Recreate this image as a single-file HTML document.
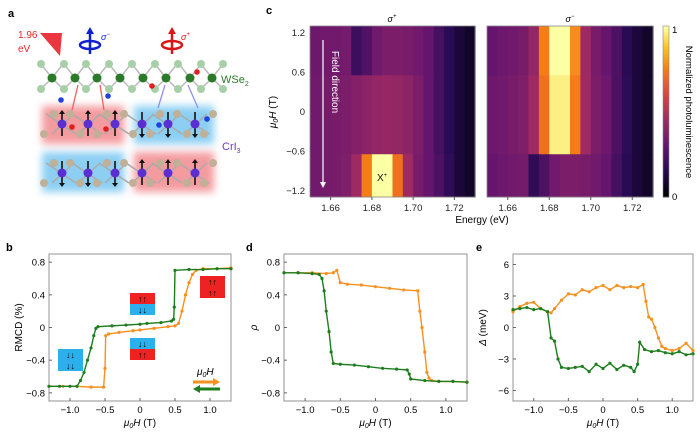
<!DOCTYPE html>
<html><head><meta charset="utf-8"><style>
body{margin:0;background:#fff;}
svg{font-family:"Liberation Sans",sans-serif;}
</style></head><body>
<svg id="fig" width="700" height="441" viewBox="0 0 700 441" xmlns="http://www.w3.org/2000/svg">
<defs>
<filter id="blur" x="-20%" y="-40%" width="140%" height="180%"><feGaussianBlur stdDeviation="4"/></filter>
</defs>
<g font-weight="bold" font-size="11">
<text x="8" y="17">a</text>
<text x="6" y="251">b</text>
<text x="266" y="14">c</text>
<text x="246" y="251">d</text>
<text x="476" y="251">e</text>
</g>
<g id="schem">
<rect x="42" y="106" width="82" height="38" fill="#f07a80" opacity="0.75" filter="url(#blur)"/>
<rect x="134" y="106" width="80" height="38" fill="#66bff0" opacity="0.75" filter="url(#blur)"/>
<rect x="42" y="152" width="82" height="40" fill="#66bff0" opacity="0.75" filter="url(#blur)"/>
<rect x="134" y="152" width="80" height="40" fill="#f07a80" opacity="0.75" filter="url(#blur)"/>
<polygon points="40,33 62,33 60,56" fill="#e8202a" opacity="0.9"/>
<text x="18" y="38" fill="#e8202a" font-size="10">1.96</text>
<text x="18" y="52" fill="#e8202a" font-size="10">eV</text>
<g stroke="#1020d0" fill="none" stroke-width="2.5">
<line x1="90" y1="54" x2="90" y2="33"/><ellipse cx="90" cy="45" rx="10" ry="4"/>
<polygon points="86,34 94,34 90,27" fill="#1020d0" stroke="none"/></g>
<text x="101" y="40" fill="#1020d0" font-size="9" font-style="italic">σ<tspan font-size="6" dy="-4">−</tspan></text>
<g stroke="#d81818" fill="none" stroke-width="2.5">
<line x1="172" y1="54" x2="172" y2="33"/><ellipse cx="172" cy="45" rx="10" ry="4"/>
<polygon points="168,34 176,34 172,27" fill="#d81818" stroke="none"/></g>
<text x="181" y="40" fill="#d81818" font-size="9" font-style="italic">σ<tspan font-size="6" dy="-4">+</tspan></text>
<text x="221" y="83" fill="#2e7a2e" font-size="11">WSe<tspan font-size="7" dy="3">2</tspan></text>
<text x="222" y="150" fill="#6a3cc0" font-size="11">CrI<tspan font-size="7" dy="3">3</tspan></text>
<g stroke="#f06060" stroke-width="1.3"><line x1="78" y1="85" x2="72" y2="110"/><line x1="100" y1="85" x2="104" y2="110"/></g>
<g stroke="#9090f0" stroke-width="1.3"><line x1="165" y1="85" x2="158" y2="108"/><line x1="188" y1="85" x2="198" y2="108"/></g>
</g>
<g id="heat"></g>
<g id="plots"></g>
</svg>
<script>
// ---------- heatmap data ----------
const energies=[1.65,1.655,1.66,1.665,1.67,1.675,1.68,1.685,1.69,1.695,1.70,1.705,1.71,1.715,1.72,1.725];
const fieldBands=[1.3,0.55,-0.65,-1.3];
const sigmaPlus=[
[0.32,0.33,0.33,0.34,0.2,0.25,0.33,0.36,0.36,0.35,0.33,0.3,0.22,0.15,0.1,0.07],
[0.33,0.34,0.35,0.36,0.38,0.4,0.42,0.43,0.42,0.4,0.36,0.3,0.22,0.15,0.1,0.07],
[0.33,0.34,0.35,0.37,0.45,0.75,1.0,1.0,0.72,0.45,0.35,0.3,0.24,0.17,0.1,0.07]];
const sigmaMinus=[
[0.3,0.32,0.33,0.35,0.42,0.75,1.0,1.0,0.78,0.45,0.35,0.3,0.24,0.15,0.1,0.07],
[0.32,0.33,0.35,0.37,0.45,0.72,0.97,0.97,0.75,0.45,0.36,0.32,0.24,0.16,0.1,0.07],
[0.3,0.32,0.33,0.34,0.17,0.24,0.33,0.36,0.36,0.35,0.33,0.3,0.22,0.15,0.1,0.07]];
const energyTicks=[1.66,1.68,1.70,1.72];
const fieldTicks=[1.2,0.6,0,-0.6,-1.2];
// ---------- panel b ----------
const bUpX=[-1.3,-1.1,-0.9,-0.7,-0.52,-0.5,-0.49,-0.45,-0.3,-0.1,0,0.2,0.4,0.5,0.55,0.6,0.65,0.7,0.75,0.8,0.9,1.1,1.3];
const bUpY=[-0.72,-0.72,-0.72,-0.73,-0.73,-0.5,-0.1,-0.08,-0.06,-0.04,-0.03,-0.01,0.01,0.02,0.05,0.2,0.4,0.55,0.65,0.7,0.72,0.72,0.73];
const bDnX=[1.3,1.1,0.9,0.7,0.5,0.49,0.48,0.45,0.3,0.1,0,-0.2,-0.4,-0.6,-0.63,-0.66,-0.7,-0.75,-0.8,-0.85,-0.9,-1.0,-1.15,-1.3];
const bDnY=[0.72,0.72,0.71,0.71,0.7,0.25,0.1,0.08,0.06,0.05,0.04,0.03,0.02,0.01,-0.01,-0.1,-0.25,-0.4,-0.55,-0.65,-0.72,-0.72,-0.72,-0.72];
// ---------- panel d ----------
const dUpX=[-1.3,-1.1,-0.9,-0.7,-0.6,-0.55,-0.5,-0.4,-0.2,0,0.2,0.4,0.6,0.63,0.66,0.7,0.73,0.76,0.8,0.9,1.1,1.3];
const dUpY=[0.67,0.67,0.67,0.66,0.67,0.7,0.55,0.53,0.52,0.5,0.48,0.46,0.45,0.2,0,-0.3,-0.55,-0.62,-0.65,-0.66,-0.66,-0.67];
const dDnX=[1.3,1.1,0.9,0.7,0.5,0.48,0.45,0.3,0.1,-0.1,-0.3,-0.5,-0.6,-0.63,-0.66,-0.7,-0.73,-0.76,-0.8,-0.9,-1.1,-1.3];
const dDnY=[-0.67,-0.66,-0.66,-0.65,-0.63,-0.57,-0.52,-0.51,-0.5,-0.48,-0.46,-0.45,-0.44,-0.3,-0.05,0.2,0.45,0.6,0.65,0.66,0.67,0.67];
// ---------- panel e ----------
const eUpX=[-1.3,-1.2,-1.1,-1.0,-0.9,-0.8,-0.75,-0.7,-0.6,-0.5,-0.4,-0.3,-0.2,-0.1,0,0.1,0.2,0.3,0.4,0.5,0.58,0.62,0.66,0.7,0.75,0.8,0.85,0.9,1.0,1.1,1.2,1.3];
const eUpY=[1.5,2.0,2.3,2.4,1.8,1.5,1.4,1.8,2.6,3.2,3.1,3.6,3.4,3.8,4.0,3.6,4.0,3.8,3.9,3.8,4.1,2.5,1.0,0.8,0.0,-1.0,-1.8,-2.0,-2.2,-2.0,-1.5,-2.2];
const eDnX=[1.3,1.2,1.1,1.0,0.9,0.8,0.7,0.6,0.53,0.5,0.45,0.4,0.3,0.2,0.1,0,-0.1,-0.2,-0.3,-0.4,-0.5,-0.6,-0.65,-0.7,-0.75,-0.8,-0.9,-1.0,-1.1,-1.2,-1.3];
const eDnY=[-2.5,-2.6,-2.3,-2.5,-2.4,-2.2,-2.3,-2.1,-1.4,-3.5,-4.2,-3.8,-3.6,-4.0,-3.4,-3.9,-3.5,-4.2,-3.7,-3.8,-3.9,-3.8,-3.0,-1.3,-1.0,1.5,1.8,1.7,1.9,1.8,1.7];
const hTicks=[-1.0,-0.5,0,0.5,1.0];
const hTickLabels=["\u22121.0","\u22120.5","0","0.5","1.0"];
const bTicks=[0.8,0.4,0,-0.4,-0.8];
const bTickLabels=["0.8","0.4","0","\u22120.4","\u22120.8"];
const eTicks=[6,3,0,-3,-6];
const eTickLabels=["6","3","0","\u22123","\u22126"];

const NS="http://www.w3.org/2000/svg";
function mk(tag,attrs,parent,txt){const e=document.createElementNS(NS,tag);for(const k in attrs)e.setAttribute(k,attrs[k]);if(txt!==undefined)e.textContent=txt;parent.appendChild(e);return e;}

const sch=document.getElementById('schem');
(function(){
 const wx=[52,75,97,120,143,166,190,212];
 wx.forEach((x,i)=>{
  mk('line',{x1:x,y1:78,x2:x+11,y2:64,stroke:'#bbb','stroke-width':1.5},sch);
  mk('line',{x1:x,y1:78,x2:x-11,y2:64,stroke:'#bbb','stroke-width':1.5},sch);
  mk('line',{x1:x,y1:78,x2:x+11,y2:89,stroke:'#bbb','stroke-width':1.5},sch);
  mk('line',{x1:x,y1:78,x2:x-11,y2:89,stroke:'#bbb','stroke-width':1.5},sch);
 });
 [41,64,86,109,132,155,178,201,223].forEach(x=>{mk('circle',{cx:x,cy:64,r:4,fill:'#a8d0a8'},sch);mk('circle',{cx:x,cy:89,r:4,fill:'#a8d0a8'},sch);});
 wx.forEach(x=>{const c=mk('circle',{cx:x,cy:78,r:4.5,fill:'#2a7a2a'},sch);});
 const cx=[62,88,115,142,168,195];
 [124,173].forEach((cy,li)=>{
  for(let i=0;i<cx.length;i++){
   const x=cx[i];
   mk('line',{x1:x-16,y1:cy-10,x2:x+14,y2:cy+10,stroke:'#aaa','stroke-width':1.5},sch);
   mk('line',{x1:x-10,y1:cy+10,x2:x+12,y2:cy-10,stroke:'#aaa','stroke-width':1.5},sch);
  }
  [44,54,70,80,97,107,124,133,150,160,177,187,204,213].forEach((x,j)=>mk('circle',{cx:x,cy:cy+(j%2?-10:10)*(j%4<2?1:-1),r:4,fill:'#c0b098'},sch));
  cx.forEach((x,i)=>{
   const dir=(li===0)?(i<3?1:-1):(i<3?-1:1);
   mk('line',{x1:x,y1:cy-12,x2:x,y2:cy+12,stroke:'#111','stroke-width':1.6},sch);
   const ty=dir>0?cy-14:cy+14;
   mk('polygon',{points:`${x-3},${ty+dir*4} ${x+3},${ty+dir*4} ${x},${ty}`,fill:'#111'},sch);
   const a=mk('circle',{cx:x,cy:cy,r:4.5,fill:'#5a2ed0'},sch);
   
  });
 });
 [[72,127,'#e02020'],[106,129,'#e02020'],[159,125,'#2040e0'],[207,119,'#2040e0'],[61,100,'#2040e0'],[108,96,'#2040e0'],[152,86,'#e02020'],[197,72,'#e02020']].forEach(([x,y,c])=>{mk('circle',{cx:x,cy:y,r:2.8,fill:c},sch);});
})();

const stops=[[0,[0,0,4]],[0.15,[40,11,84]],[0.3,[101,21,110]],[0.45,[159,42,99]],[0.6,[212,72,66]],[0.75,[245,125,21]],[0.88,[250,193,39]],[1,[252,255,164]]];
function cmap(v){v=Math.max(0,Math.min(1,v));for(let i=1;i<stops.length;i++){if(v<=stops[i][0]){const [a,ca]=stops[i-1],[b,cb]=stops[i];const t=(v-a)/(b-a);return `rgb(${ca.map((c,k)=>Math.round(c+(cb[k]-c)*t)).join(',')})`;}}return 'rgb(252,255,164)';}

const heat=document.getElementById('heat');
const hy0=26,hy1=197;
function fy(f){return hy0+(1.3-f)/2.6*(hy1-hy0);}
function drawMap(x0,x1,data,name){
 const ex=e=>x0+(e-1.65)/0.08*(x1-x0);
 const g=mk('g',{},heat);
 
 
 for(let r=0;r<data.length;r++){
  for(let c=0;c<energies.length;c++){
   const xa=ex(energies[c]),xb=ex(energies[c]+0.005);
   const ya=fy(fieldBands[r]),yb=fy(fieldBands[r+1]);
   const cell=mk('rect',{x:xa,y:ya,width:xb-xa+0.6,height:yb-ya+0.4,fill:cmap(data[r][c])},g);
   
   
  }
 }
 mk('rect',{x:x0,y:hy0,width:x1-x0,height:hy1-hy0,fill:'none',stroke:'#888','stroke-width':0.8},g);
 energyTicks.forEach(e=>{mk('line',{x1:ex(e),y1:hy1,x2:ex(e),y2:hy1+3,stroke:'#555'},g);
  const t=mk('text',{x:ex(e),y:211,'font-size':9.5,'text-anchor':'middle',fill:'#222'},g,e.toFixed(2));
  });
 return ex;
}
drawMap(310,475,sigmaPlus,'sigma-plus-heatmap');
drawMap(487,653,sigmaMinus,'sigma-minus-heatmap');
fieldTicks.forEach(f=>{const t=mk('text',{x:305,y:fy(f)+3.5,'font-size':9.5,'text-anchor':'end',fill:'#222'},heat,f===0?'0':(f<0?'\u2212':'')+Math.abs(f).toFixed(1));
 });
let t;
t=mk('text',{x:392,y:22,'font-size':9,'font-style':'italic','text-anchor':'middle'},heat);t.innerHTML='σ<tspan font-size="6" dy="-4">+</tspan>';

t=mk('text',{x:570,y:22,'font-size':9,'font-style':'italic','text-anchor':'middle'},heat);t.innerHTML='σ<tspan font-size="6" dy="-4">−</tspan>';

t=mk('text',{x:482,y:223,'font-size':10,'text-anchor':'middle'},heat,'Energy (eV)');

t=mk('text',{x:0,y:0,'font-size':10,'text-anchor':'middle',transform:'translate(276,112) rotate(-90)'},heat);t.innerHTML='<tspan font-style="italic">μ</tspan><tspan font-size="7" dy="2" font-style="italic">0</tspan><tspan dy="-2" font-style="italic">H</tspan> (T)';

t=mk('text',{x:0,y:0,'font-size':10,fill:'#fff',transform:'translate(332,82) rotate(90)','text-anchor':'middle'},heat,'Field direction');

mk('line',{x1:323,y1:40,x2:323,y2:182,stroke:'#fff','stroke-width':1.2},heat);
mk('polygon',{points:'320,182 326,182 323,188',fill:'#fff'},heat);
t=mk('text',{x:377,y:181,'font-size':10,fill:'#111'},heat);t.innerHTML='X<tspan font-size="6" dy="-4">+</tspan>';

const cb=mk('g',{},heat);
for(let i=0;i<60;i++){mk('rect',{x:663,y:hy0+i*(hy1-hy0)/60,width:6,height:(hy1-hy0)/60+0.5,fill:cmap(1-i/59)},cb);}
mk('rect',{x:663,y:hy0,width:6,height:hy1-hy0,fill:'none',stroke:'#888','stroke-width':0.6},cb);
mk('text',{x:672,y:33,'font-size':9.5},cb,'1');mk('text',{x:672,y:200,'font-size':9.5},cb,'0');
t=mk('text',{x:0,y:0,'font-size':9.5,'text-anchor':'middle',transform:'translate(686,112) rotate(90)'},cb,'Normalized photoluminescence');


const plots=document.getElementById('plots');
function panel(name,x0,x1,ymax,ticks,tickLabels,ylabelHtml,series){
 const y0=254,y1=401;
 const sx=v=>x0+(v+1.3)/2.6*(x1-x0);
 const sy=v=>y0+(ymax-v)/(2*ymax)*(y1-y0);
 const g=mk('g',{},plots);
 mk('rect',{x:x0,y:y0,width:x1-x0,height:y1-y0,fill:'none',stroke:'#888','stroke-width':0.9},g);
 hTicks.forEach((v,i)=>{mk('line',{x1:sx(v),y1:y1,x2:sx(v),y2:y1-3,stroke:'#666'},g);
  const l=mk('text',{x:sx(v),y:y1+12,'font-size':9.5,'text-anchor':'middle'},g,hTickLabels[i]);
  });
 ticks.forEach((v,i)=>{mk('line',{x1:x0,y1:sy(v),x2:x0+3,y2:sy(v),stroke:'#666'},g);
  const l=mk('text',{x:x0-4,y:sy(v)+3.5,'font-size':9.5,'text-anchor':'end'},g,tickLabels[i]);
  });
 const xl=mk('text',{x:(x0+x1)/2,y:426,'font-size':10,'text-anchor':'middle'},g);
 xl.innerHTML='<tspan font-style="italic">μ</tspan><tspan font-size="7" dy="2" font-style="italic">0</tspan><tspan dy="-2" font-style="italic">H</tspan> (T)';
 
 const yl=mk('text',{x:0,y:0,'font-size':10,'text-anchor':'middle',transform:`translate(${x0-27},${(y0+y1)/2}) rotate(-90)`},g);
 yl.innerHTML=ylabelHtml;
 series.forEach(([xs,ys,col,sn])=>{
  const p=mk('polyline',{points:xs.map((x,i)=>sx(x)+','+sy(ys[i])).join(' '),fill:'none',stroke:col,'stroke-width':1.4},g);
  
  xs.forEach((x,i)=>{const c=mk('circle',{cx:sx(x),cy:sy(ys[i]),r:1.6,fill:col},g);
   });
 });
 return {g,sx,sy};
}
const OR='#f7901e',GR='#1e7d1e';
const pb=panel('panel-b-rmcd',49,231,0.9,bTicks,bTickLabels,'RMCD (%)',[[bUpX,bUpY,OR,'rmcd-sweep-up'],[bDnX,bDnY,GR,'rmcd-sweep-down']]);
panel('panel-d-rho',284,467,0.9,bTicks,bTickLabels,'<tspan font-style="italic">ρ</tspan>',[[dUpX,dUpY,OR,'rho-sweep-up'],[dDnX,dDnY,GR,'rho-sweep-down']]);
panel('panel-e-delta',513,693,7,eTicks,eTickLabels,'<tspan font-style="italic">Δ</tspan> (meV)',[[eUpX,eUpY,OR,'delta-sweep-up'],[eDnX,eDnY,GR,'delta-sweep-down']]);
function inset(x,y,top,bot,name){const g=mk('g',{},pb.g);
 mk('rect',{x:x,y:y,width:25,height:11,fill:top[0]},g);mk('rect',{x:x,y:y+11,width:25,height:11,fill:bot[0]},g);
 mk('text',{x:x+12.5,y:y+9,'font-size':9,'text-anchor':'middle','font-weight':'bold'},g,top[1]);
 mk('text',{x:x+12.5,y:y+20,'font-size':9,'text-anchor':'middle','font-weight':'bold'},g,bot[1]);}
const R='#ee2222',B='#2ab0ea';
inset(58,349,[B,'↓↓'],[B,'↓↓'],'inset-both-down');
inset(130,293,[R,'↑↑'],[B,'↓↓'],'inset-antiparallel-1');
inset(130,338,[B,'↓↓'],[R,'↑↑'],'inset-antiparallel-2');
inset(200,276,[R,'↑↑'],[R,'↑↑'],'inset-both-up');
t=mk('text',{x:197,y:375,'font-size':10},pb.g);t.innerHTML='<tspan font-style="italic">μ</tspan><tspan font-size="7" dy="2" font-style="italic">0</tspan><tspan dy="-2" font-style="italic">H</tspan>';

mk('line',{x1:193,y1:382,x2:214,y2:382,stroke:OR,'stroke-width':3},pb.g);
mk('polygon',{points:'213,378 220,382 213,386',fill:OR},pb.g);
mk('line',{x1:199,y1:389,x2:220,y2:389,stroke:GR,'stroke-width':3},pb.g);
mk('polygon',{points:'200,385 193,389 200,393',fill:GR},pb.g);
</script>
</body></html>
